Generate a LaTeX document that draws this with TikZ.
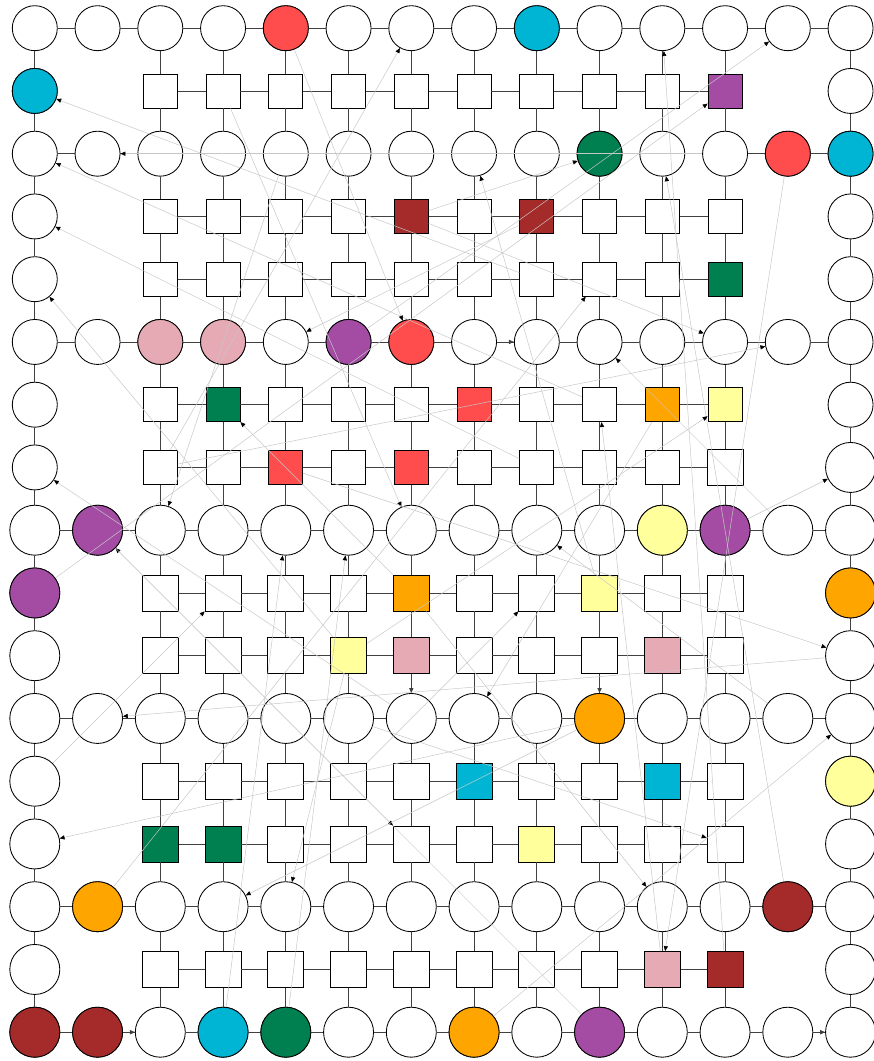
\documentclass[tikz,border=0pt]{standalone}
\usepackage{tikz}
\usetikzlibrary{arrows.meta}

\definecolor{cred}{HTML}{FF4D4D}
\definecolor{ccyan}{HTML}{00B4D4}
\definecolor{cgreen}{HTML}{007F50}
\definecolor{cpurple}{HTML}{A44CA4}
\definecolor{cbrown}{HTML}{A52A2A}
\definecolor{cpink}{HTML}{E5AAB4}
\definecolor{corange}{HTML}{FFA500}
\definecolor{cyellow}{HTML}{FFFF9C}

\begin{document}
\begin{tikzpicture}[x=1.56875cm, y=-1.56875cm,
  dot/.style={circle, draw, line width=0.6pt, fill=white, inner sep=0pt,
    minimum size={(1.125+0.125*(#1>7))*1cm}},
  box/.style={rectangle, draw, line width=0.6pt, fill=white, inner sep=0pt,
    minimum size={(0.85+0.05*(#1>7))*1cm}},
  link/.style={draw=black!75, line width=0.6pt},
  jump/.style={draw=black!22, line width=0.35pt,
    -{Triangle[black, length=3.5pt, width=3pt]}}]
  \useasboundingbox (-0.5546,-0.4494) rectangle (13.358,16.459);

  % rows of circles
  \foreach \r in {0,2,5,8,11,14,16}
    \foreach \c in {0,...,13}
      \node[dot=\r] (n\r-\c) at (\c,\r) {};
  % rows of boxes
  \foreach \r in {1,3,4,6,7,9,10,12,13,15} {
    \node[dot=\r] (n\r-0) at (0,\r) {};
    \node[dot=\r] (n\r-13) at (13,\r) {};
    \foreach \c in {2,...,11}
      \node[box=\r] (n\r-\c) at (\c,\r) {};
  }
  % coloured ones
  \foreach \r/\c/\k in {0/4/cred, 0/8/ccyan, 1/0/ccyan, 2/9/cgreen, 2/12/cred,
      2/13/ccyan, 5/2/cpink, 5/3/cpink, 5/5/cpurple, 5/6/cred, 8/1/cpurple,
      8/10/cyellow, 8/11/cpurple, 9/0/cpurple, 9/13/corange, 11/9/corange,
      12/13/cyellow, 14/1/corange, 14/12/cbrown, 16/0/cbrown, 16/1/cbrown,
      16/3/ccyan, 16/4/cgreen, 16/7/corange, 16/9/cpurple}
    \node[dot=\r, fill=\k] (n\r-\c) at (\c,\r) {};
  \foreach \r/\c/\k in {1/11/cpurple, 3/6/cbrown, 3/8/cbrown, 4/11/cgreen,
      6/3/cgreen, 6/7/cred, 6/10/corange, 6/11/cyellow, 7/4/cred, 7/6/cred,
      9/6/corange, 9/9/cyellow, 10/5/cyellow, 10/6/cpink, 10/10/cpink,
      12/7/ccyan, 12/10/ccyan, 13/2/cgreen, 13/3/cgreen, 13/8/cyellow,
      15/10/cpink, 15/11/cbrown}
    \node[box=\r, fill=\k] (n\r-\c) at (\c,\r) {};
  \node[dot=8] (n7-13) at (13,7) {};
  \node[box=8] (n7-11) at (11,7) {};

  % grid
  \foreach \r in {0,2,5,8,11,14,16}
    \foreach \c in {0,...,12} {
      \pgfmathtruncatemacro\cn{\c+1}
      \draw[link] (n\r-\c) -- (n\r-\cn);
    }
  \foreach \r in {1,3,4,6,7,9,10,12,13,15}
    \foreach \c in {2,...,10} {
      \pgfmathtruncatemacro\cn{\c+1}
      \draw[link] (n\r-\c) -- (n\r-\cn);
    }
  \foreach \c in {0,2,3,4,5,6,7,8,9,10,11,13}
    \foreach \r in {0,...,15} {
      \pgfmathtruncatemacro\rn{\r+1}
      \draw[link] (n\r-\c) -- (n\rn-\c);
    }
  \foreach \a/\b in {5-7/5-8, 10-6/11-6, 10-9/11-9, 16-1/16-2, 16-12/16-13}
    \draw[link, -{Triangle[length=3.5pt, width=3pt]}] (n\a) -- (n\b);

  % jumps
  \foreach \a/\b in {4-8/1-0, 2-11/2-1, 6-9/2-0, 7-8/3-0, 0-4/5-6, 7-2/0-6,
      15-11/0-10, 5-5/0-12, 9-0/1-11, 3-6/2-9, 9-9/2-7, 14-12/2-10, 10-5/4-0,
      3-8/5-4, 14-1/4-9, 8-12/5-9, 3-6/5-11, 7-2/5-12, 9-6/6-3, 15-10/6-9,
      10-5/6-11, 11-6/7-0, 2-4/8-2, 1-3/8-6, 8-11/7-13, 16-9/8-1, 12-0/9-3,
      16-3/8-4, 16-4/8-5, 11-12/8-8, 12-5/9-8, 7-4/10-13, 6-10/11-7,
      10-13/11-1, 16-7/11-13, 11-9/13-0, 8-1/13-6, 10-5/14-4, 11-9/14-3,
      11-5/13-11, 9-6/14-10, 2-12/15-10}
    \draw[jump] (n\a) -- (n\b);
\end{tikzpicture}
\end{document}
